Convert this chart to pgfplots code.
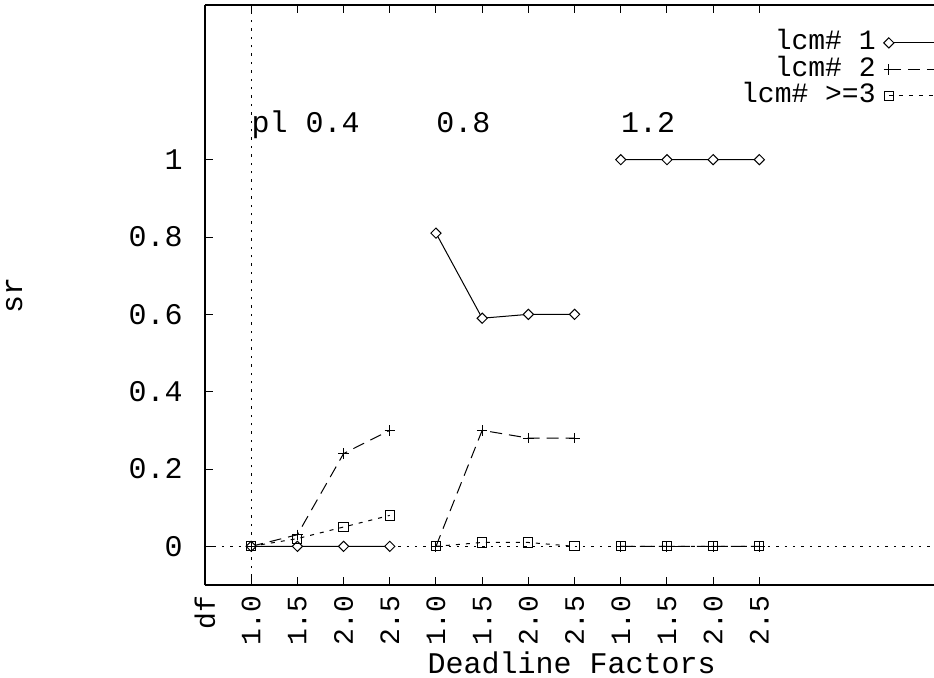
\documentclass[border=0pt]{standalone}
\usepackage{pgfplots}
\pgfplotsset{compat=1.18}
\usepackage{fontspec}
\setmainfont{Liberation Mono}

\begin{document}
\fontsize{15}{17}\selectfont
\begin{tikzpicture}
\useasboundingbox (-102.5pt,-46pt) rectangle (364.5pt,292.5pt);
\begin{axis}[
    scale only axis,
    width=364.5pt, height=290pt,
    xmin=-1, xmax=14.78,
    ymin=-0.1, ymax=1.4,
    axis x line*=box, axis y line*=left,
    axis line style={line width=1pt},
    tick align=inside,
    major tick length=4pt,
    tick style={line width=0.5pt, black},
    xtick={-1,0,1,2,3,4,5,6,7,8,9,10,11},
    xticklabels={df,1.0,1.5,2.0,2.5,1.0,1.5,2.0,2.5,1.0,1.5,2.0,2.5},
    x tick label style={rotate=90, anchor=east, font=\fontsize{14}{16}\selectfont},
    ytick={0,0.2,0.4,0.6,0.8,1},
    yticklabels={0,0.2,0.4,0.6,0.8,1},
    yticklabel style={xshift=-6pt},
    xlabel={Deadline Factors},
    xlabel style={at={(axis description cs:0.503,-0.152)}, anchor=base},
    ylabel={sr},
    ylabel style={at={(axis description cs:-0.251,0.5)}, anchor=base, rotate=0},
    unbounded coords=jump,
    legend plot pos=right,
    legend cell align=right,
    legend style={at={(axis description cs:1.049,0.953)}, anchor=north east,
        draw=none, fill=none, inner sep=0pt, column sep=4pt, row sep=3pt,
        font=\fontsize{14}{16}\selectfont,
        nodes={inner sep=0pt, text height=8.5pt, text depth=1.75pt}},
    legend image code/.code={\draw[mark repeat=2,mark phase=1,#1] plot coordinates {(0pt,0pt) (40pt,0pt)};},
]
% zero axes, as gnuplot draws them
\draw[dash pattern=on 1.2pt off 3pt, line width=0.5pt] (axis cs:-1,0) -- (axis cs:14.78,0);
\draw[dash pattern=on 1.2pt off 3pt, line width=0.5pt] (axis cs:0,-0.1) -- (axis cs:0,1.4);

\addplot[black, line width=0.5pt, mark=square*, mark size=1.8pt,
    mark options={solid, fill=white, rotate=45}] coordinates {
    (0,0) (1,0) (2,0) (3,0) (3.5,nan)
    (4,0.81) (5,0.59) (6,0.60) (7,0.60) (7.5,nan)
    (8,1) (9,1) (10,1) (11,1)
};
\addplot[black, line width=0.5pt, dash pattern=on 6pt off 3.5pt, mark=+, mark size=2.6pt,
    mark options={solid}] coordinates {
    (0,0) (1,0.03) (2,0.24) (3,0.30) (3.5,nan)
    (4,0) (5,0.30) (6,0.28) (7,0.28) (7.5,nan)
    (8,0) (9,0) (10,0) (11,0)
};
\addplot[black, line width=0.5pt, dash pattern=on 2pt off 3pt, mark=square, mark size=2.3pt,
    mark options={solid}] coordinates {
    (0,0) (1,0.02) (2,0.05) (3,0.08) (3.5,nan)
    (4,0) (5,0.01) (6,0.01) (7,0) (7.5,nan)
    (8,0) (9,0) (10,0) (11,0)
};
\legend{lcm\# 1, lcm\# 2, lcm\# >=3}

\node[anchor=base west, inner sep=0pt] at (axis cs:0,1.07) {pl 0.4};
\node[anchor=base west, inner sep=0pt] at (axis cs:4,1.07) {0.8};
\node[anchor=base west, inner sep=0pt] at (axis cs:8,1.07) {1.2};
\end{axis}
\end{tikzpicture}
\end{document}
